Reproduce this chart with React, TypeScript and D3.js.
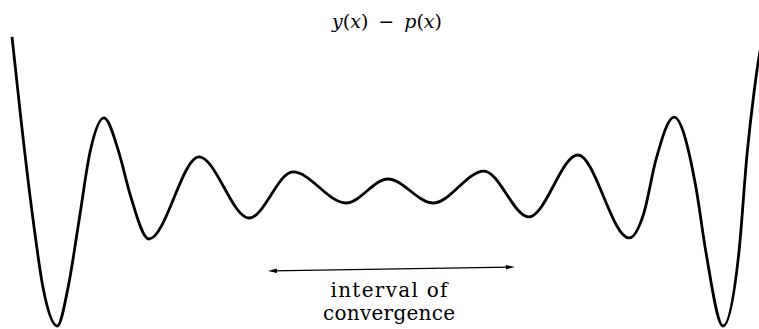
import React from "react";
import * as d3 from "d3";

// Abscissa of the points (x in [-1, 1])
const xs: number[] = [
  -1.0, -0.976, -0.944, -0.918, -0.88, -0.851, -0.822, -0.793, -0.756, -0.716,
  -0.687, -0.637, -0.504, -0.371, -0.255, -0.114, -0.003, 0.117, 0.252, 0.371,
  0.501, 0.637, 0.676, 0.708, 0.756, 0.814, 0.841, 0.886, 0.928, 0.95, 0.968,
  0.979, 0.992,
];
// Error y(x) - p(x) at those points (arbitrary units)
const ys: number[] = [
  1.027, 0.473, -0.193, -0.64, -0.9, -0.64, -0.193, 0.26, 0.487, 0.253,
  -0.02, -0.32, 0.227, -0.18, 0.127, -0.08, 0.08, -0.08, 0.133, -0.173,
  0.24, -0.313, -0.147, 0.207, 0.493, 0.027, -0.413, -0.9, -0.413, 0.253,
  0.653, 0.853, 1.04,
];

// Interval of convergence arrow (ends in data units)
const intervalX: number[] = [-0.321, 0.334];
const intervalY: number[] = [-0.533, -0.507];

const titleParts = ["y", "(", "x", ")", "−", "p", "(", "x", ")"];
const labelLines = ["interval of", "convergence"];
const labelWidths = [117, 132];

const W = 759;
const H = 329;

export default function App() {
  const x = d3.scaleLinear().domain([-1, 1]).range([12, 766]);
  const y = d3.scaleLinear().domain([-1, 1]).range([341, 41]);

  const pts: [number, number][] = xs.map((v, i) => [v, ys[i]]);
  const line = d3
    .line<[number, number]>()
    .x((d) => x(d[0]))
    .y((d) => y(d[1]))
    .curve(d3.curveMonotoneX);

  const ax0 = x(intervalX[0]);
  const ax1 = x(intervalX[1]);
  const ay0 = y(intervalY[0]);
  const ay1 = y(intervalY[1]);
  const ang = Math.atan2(ay1 - ay0, ax1 - ax0);
  const head = (tx: number, ty: number, dir: number) => {
    const L = 9;
    const hw = 2.2;
    const c = Math.cos(ang) * dir;
    const s = Math.sin(ang) * dir;
    const bx = tx - c * L;
    const by = ty - s * L;
    return `M${tx},${ty}L${bx - s * hw},${by + c * hw}L${bx + s * hw},${by - c * hw}Z`;
  };

  const cx = x(0);
  const italic = new Set(["y", "x", "p"]);

  return (
    <>
      <style>{`body{margin:0;background:#fff}`}</style>
      <svg width={W} height={H} style={{ display: "block" }}>
        <rect width={W} height={H} fill="#fff" />
        <path d={line(pts) || ""} fill="none" stroke="#000" strokeWidth={2.8} strokeLinejoin="round" />
        <line x1={ax0 + 4} y1={ay0} x2={ax1 - 4} y2={ay1} stroke="#000" strokeWidth={1.2} />
        <path d={head(ax0, ay0, -1)} fill="#000" />
        <path d={head(ax1, ay1, 1)} fill="#000" />
        <text
          x={cx - 2}
          y={28}
          textAnchor="middle"
          fontFamily="DejaVu Serif"
          fontSize={19}
          fill="#000"
        >
          {titleParts.map((t, i) => (
            <tspan
              key={i}
              fontStyle={italic.has(t) ? "italic" : "normal"}
              dx={t === "−" || (t === "p") ? 10 : 0}
            >
              {t}
            </tspan>
          ))}
        </text>
        {labelLines.map((t, i) => (
          <text
            key={i}
            x={cx}
            y={297 + i * 23}
            textAnchor="middle"
            fontFamily="DejaVu Serif"
            fontSize={20}
            textLength={labelWidths[i]}
            lengthAdjust="spacing"
            fill="#000"
          >
            {t}
          </text>
        ))}
      </svg>
    </>
  );
}
